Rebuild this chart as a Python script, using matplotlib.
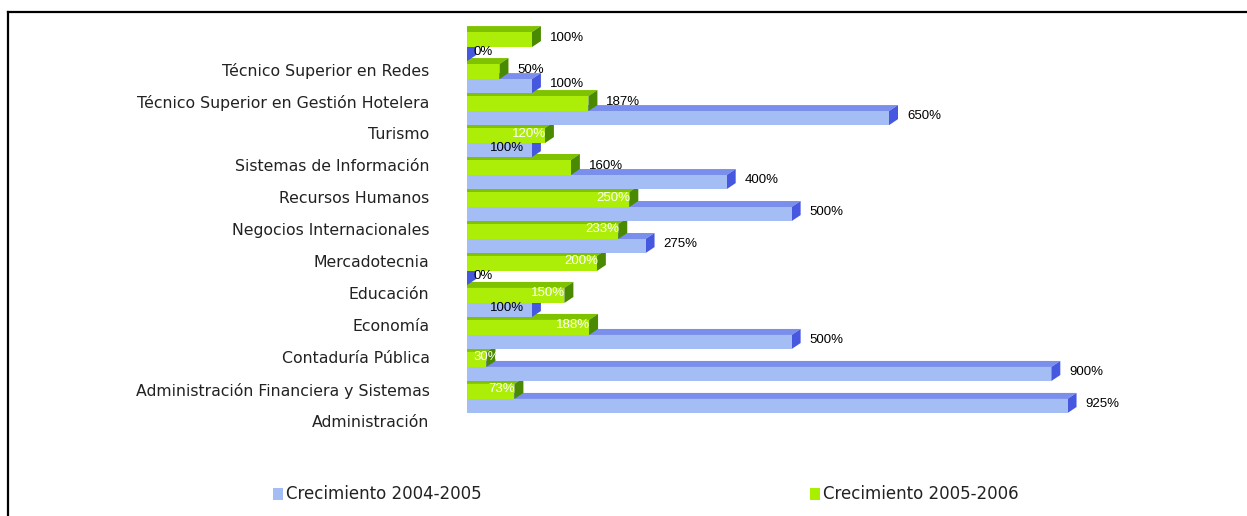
import matplotlib
matplotlib.use("Agg")
import matplotlib.pyplot as plt
from matplotlib.patches import Polygon, Rectangle
from matplotlib.lines import Line2D
import numpy as np

plt.rcParams['font.family'] = ['Liberation Sans', 'DejaVu Sans']

# ---- data (bottom to top, as in the chart) ----
categories = [
    "Administración",
    "Administración Financiera y Sistemas",
    "Contaduría Pública",
    "Economía",
    "Educación",
    "Mercadotecnia",
    "Negocios Internacionales",
    "Recursos Humanos",
    "Sistemas de Información",
    "Turismo",
    "Técnico Superior en Gestión Hotelera",
    "Técnico Superior en Redes",
]
growth_2004_2005 = [925, 900, 500, 100, 0, 275, 500, 400, 100, 650, 100, 0]
growth_2005_2006 = [73, 30, 188, 150, 200, 233, 250, 160, 120, 187, 50, 100]
series_names = ["Crecimiento 2004-2005", "Crecimiento 2005-2006"]

# ---- label placement styles ----
blue_label_mode = ['out', 'out', 'out', 'in', 'base', 'out', 'out', 'out', 'in', 'out', 'out', 'base']
green_label_mode = ['in', 'base', 'in', 'in', 'in', 'in', 'in', 'out', 'in', 'out', 'out', 'out']

# ---- colours ----
blue_front, blue_top, blue_side = '#A4BEF5', '#7A8FEC', '#4658E0'
green_front, green_top, green_side = '#ADEE08', '#7FC200', '#4A8A00'

label_font = ['DejaVu Sans']

W, H = 1247, 516
fig = plt.figure(figsize=(W / 100, H / 100), dpi=100)
ax_left_px, ax_right_px = 467, 1100
ax_top_px, ax_bot_px = 18, 437
ax = fig.add_axes([ax_left_px / W, (H - ax_bot_px) / H,
                   (ax_right_px - ax_left_px) / W, (ax_bot_px - ax_top_px) / H])
xmax = 975
ax.set_xlim(0, xmax)
ax.set_ylim(-0.5, 12.6)

px_per_x = (ax_right_px - ax_left_px) / xmax
px_per_y = (ax_bot_px - ax_top_px) / (12.6 + 0.5)
dxd = 9 / px_per_x
dyd = 6 / px_per_y

y = np.arange(len(categories))
blue_off, blue_h = 0.25, 0.44
green_off, green_h = 0.69, 0.47

ax.barh(y + blue_off, growth_2004_2005, height=blue_h, align='edge',
        color=blue_front, zorder=10, linewidth=0)
ax.barh(y + green_off, growth_2005_2006, height=green_h, align='edge',
        color=green_front, zorder=10, linewidth=0)


def add_depth(v, bottom, h, ctop, cside, z):
    top = bottom + h
    ax.add_patch(Polygon([(0, top), (v, top), (v + dxd, top + dyd), (0, top + dyd)],
                         closed=True, facecolor=ctop, edgecolor='none', zorder=z))
    ax.add_patch(Polygon([(v, bottom), (v, top), (v + dxd, top + dyd), (v + dxd, bottom + dyd)],
                         closed=True, facecolor=cside, edgecolor='none', zorder=z + 0.01))


for i in range(len(categories)):
    add_depth(growth_2004_2005[i], i + blue_off, blue_h, blue_top, blue_side, 2 + 0.1 * (2 * i))
    add_depth(growth_2005_2006[i], i + green_off, green_h, green_top, green_side, 2 + 0.1 * (2 * i + 1))

PT = 0.72  # points per pixel at 100 dpi


def add_label(v, yc, mode, inside_color):
    txt = f"{v}%"
    kw = dict(textcoords='offset points', va='center', fontsize=9.5, zorder=12)
    if mode == 'out':
        ax.annotate(txt, xy=(v, yc), xytext=(18 * PT, 2 * PT), ha='left', color='black', **kw)
    elif mode == 'in':
        off = 1 if inside_color == 'white' else -8
        ax.annotate(txt, xy=(v, yc), xytext=(off * PT, 2 * PT), ha='right', color=inside_color, **kw)
    else:
        ax.annotate(txt, xy=(0, yc), xytext=(6 * PT, 2 * PT), ha='left', color=inside_color, **kw)


for i in range(len(categories)):
    add_label(growth_2004_2005[i], i + blue_off + blue_h / 2, blue_label_mode[i], 'black')
    add_label(growth_2005_2006[i], i + green_off + green_h / 2, green_label_mode[i], 'white')

ax.set_yticks(y)
ax.set_yticklabels(categories, fontsize=11.3, color='#222222', family=label_font)
ax.tick_params(axis='y', length=0, pad=27)
ax.set_xticks([])
for s in ax.spines.values():
    s.set_visible(False)

# legend
for (x0, name, col) in [(273, series_names[0], blue_front), (810, series_names[1], '#A8F000')]:
    fig.add_artist(Rectangle((x0 / W, (H - 500) / H), 10 / W, 12 / H,
                             transform=fig.transFigure, facecolor=col, edgecolor='none'))
    fig.text((x0 + 13) / W, 1 - 494 / H, name, va='center', ha='left', fontsize=12,
             color='#222222', family=label_font)

# frame lines (left and top)
fig.add_artist(Line2D([8 / W, 8 / W], [0, 1 - 12 / H], transform=fig.transFigure,
                      color='black', lw=1.6))
fig.add_artist(Line2D([8 / W, 1], [1 - 12 / H, 1 - 12 / H], transform=fig.transFigure,
                      color='black', lw=1.6))

fig.savefig('out.png', dpi=100)
